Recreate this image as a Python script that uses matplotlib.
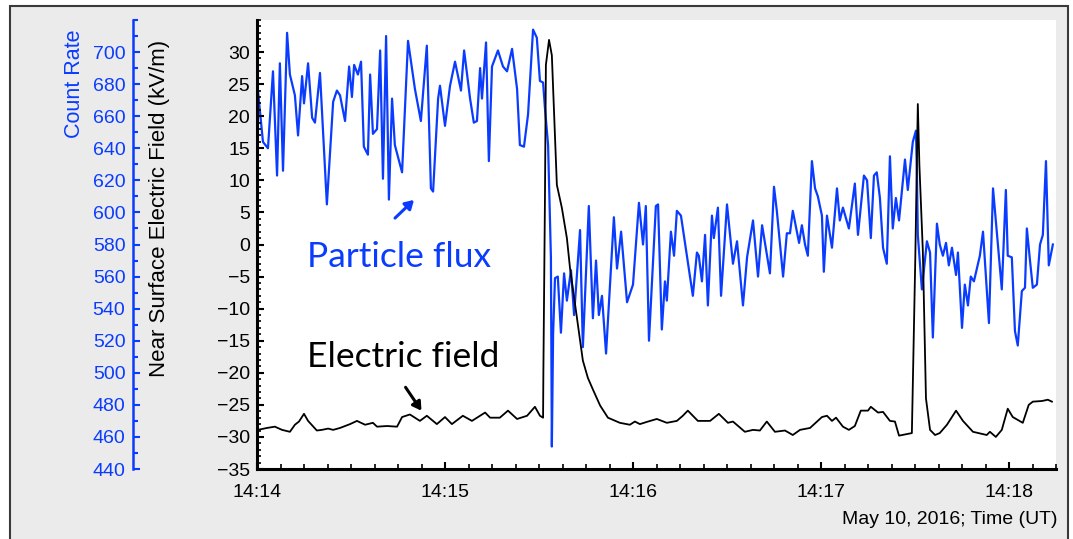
import matplotlib
matplotlib.use("Agg")
import matplotlib.pyplot as plt
from matplotlib.patches import Rectangle, FancyArrowPatch
from matplotlib.ticker import FixedLocator, MultipleLocator

# particle flux: seconds after 14:14:00 UT, count rate
flux_t = [0, 1.9, 3.5, 5.1, 6.4, 7.3, 8.3, 9.6, 10.5, 12.1, 13.1, 14.4, 15.0, 16.3, 17.6,
          18.5, 20.1, 22.3, 24.3, 25.5, 26.5, 28.1, 29.4, 30.3, 31.0, 32.2, 33.2, 34.1,
          35.4, 36.1, 37.0, 38.3, 39.3, 40.2, 41.2, 42.1, 43.1, 44.0, 46.3, 48.2, 50.4,
          52.3, 54.2, 55.5, 56.2, 57.8, 58.4, 60.0, 61.6, 63.2, 65.1, 66.1, 68.0, 69.2,
          70.2, 71.2, 71.8, 73.1, 74.0, 75.0, 76.9, 78.5, 79.8, 81.4, 83.0, 83.9, 85.2,
          86.5, 88.1, 89.3, 90.3, 91.3, 91.9, 92.9, 93.8, 94.1, 94.5, 95.1, 96.0, 97.0,
          98.0, 98.9, 100.2, 101.2, 103.1, 104.0, 105.9, 107.2, 108.2, 109.1, 110.1,
          111.4, 113.9, 114.9, 116.2, 118.1, 120.0, 121.9, 123.2, 124.1, 125.1, 127.3,
          128.0, 129.2, 130.2, 130.8, 132.1, 133.1, 134.0, 135.3, 139.1, 140.4, 141.0,
          142.0, 143.0, 143.9, 145.2, 145.8, 147.1, 148.1, 150.0, 151.9, 153.2, 155.1,
          156.4, 158.3, 159.9, 161.2, 163.7, 165.0, 165.9, 167.9, 169.1, 170.1, 171.0,
          173.0, 173.9, 174.9, 175.8, 177.1, 178.1, 179.0, 180.3, 180.9, 181.9, 183.5,
          185.1, 186.0, 187.0, 188.9, 190.8, 191.8, 193.7, 194.7, 195.9, 196.9, 197.8,
          198.8, 199.8, 201.0, 202.0, 202.9, 203.9, 204.9, 206.8, 207.7, 209.3, 210.3,
          210.6, 210.9, 212.2, 213.8, 214.8, 215.7, 217.0, 217.9, 218.9, 219.9, 220.8,
          221.8, 223.1, 223.7, 225.0, 225.9, 226.9, 227.8, 228.8, 230.7, 231.7, 233.6,
          234.9, 235.8, 237.7, 239.0, 239.6, 240.9, 241.9, 242.8, 244.1, 245.1, 245.7,
          246.7, 247.6, 248.9, 249.9, 250.8, 251.8, 252.7, 254.0]
flux_counts = [682, 644, 640, 688, 623, 693, 626, 712, 686, 673, 648, 685, 668, 693, 659,
               656, 687, 605, 669, 676, 673, 657, 691, 672, 692, 686, 694, 641,
               636, 686, 649, 652, 701, 621, 710, 608, 671, 642, 625, 707, 677,
               657, 704, 615, 613, 671, 679, 654, 679, 694, 676, 701, 671, 656,
               657, 690, 671, 706, 632, 691, 701, 691, 688, 702, 677, 642, 641,
               661, 714, 709, 682, 681, 665, 642, 572, 454, 524, 559, 560, 525,
               562, 545, 564, 536, 589, 516, 604, 534, 570, 536, 548,
               512, 597, 565, 588, 544, 555, 606, 580, 604, 520, 604,
               605, 527, 557, 545, 588, 573, 601, 598, 548, 575, 573,
               557, 586, 542, 598, 584, 603, 548, 605, 568, 582, 542,
               572, 595, 560, 592, 562, 616, 601, 560, 587, 587, 601,
               581, 592, 580, 573, 632, 615, 610, 598, 563, 598, 578,
               615, 595, 603, 590, 618, 586, 623, 620, 584, 623, 625,
               609, 578, 568, 635, 590, 609, 595, 633, 614, 644, 651,
               626, 586, 552, 582, 575, 522, 593, 580, 573, 581, 567,
               578, 561, 575, 528, 555, 542, 560, 557, 573, 588, 531,
               615, 595, 552, 614, 573, 572, 526, 517, 551, 553, 590,
               570, 553, 555, 580, 586, 632, 567, 580]

# near surface electric field: seconds after 14:14:00 UT, kV/m
field_t = [0.3, 3.2, 5.7, 8.0, 10.5, 12.1, 13.4, 15.0, 16.3, 19.1, 20.7, 22.7, 24.3, 26.5,
           29.7, 31.9, 34.5, 37.0, 38.3, 41.5, 44.7, 46.3, 48.8, 52.0, 54.2, 57.4, 60.0,
           62.2, 65.7, 68.6, 72.8, 74.4, 77.5, 80.1, 83.0, 86.2, 88.7, 90.3, 91.3, 91.4,
           91.9, 92.2, 93.2, 94.1, 95.7, 97.3, 98.9, 99.9, 102.1, 104.0, 105.6, 107.2,
           109.5, 112.0, 115.8, 119.0, 120.6, 122.2, 124.8, 127.6, 130.8, 134.0, 135.9,
           137.5, 140.7, 144.6, 147.4, 150.3, 151.9, 155.7, 158.3, 160.5, 162.7, 165.3,
           168.5, 171.0, 173.3, 176.5, 180.3, 181.9, 183.5, 184.8, 187.0, 188.9, 190.8,
           192.7, 195.0, 195.9, 198.2, 199.8, 202.0, 203.6, 204.9, 209.0, 210.1, 210.9,
           211.4, 212.5, 213.5, 214.8, 216.4, 217.9, 220.2, 223.1, 225.3, 228.5, 232.9,
           233.9, 235.8, 237.7, 239.6, 241.2, 244.4, 246.3, 247.6, 250.5, 252.4, 253.7]
field_kv = [-28.9, -28.6, -28.4, -28.9, -29.2, -28.1, -27.6, -26.4, -27.5, -29.0, -28.9,
            -28.7, -28.9, -28.6, -28.0, -27.5, -28.1, -27.8, -28.4, -28.3, -28.4, -26.9,
            -26.5, -27.5, -26.7, -28.0, -26.9, -28.0, -26.7, -27.5, -26.2, -27.0, -27.0,
            -25.9, -27.2, -26.7, -25.3, -26.7, -27.0, -19.7, 7.2, 28.0, 31.9, 29.5, 9.3,
            5.7, 1.0, -3.7, -11.4, -18.1, -20.8, -22.6, -25.1, -27.0, -27.8, -28.1, -27.6,
            -28.0, -27.6, -27.2, -27.8, -27.5, -26.7, -25.9, -27.5, -27.5, -26.4, -27.8,
            -27.6, -29.2, -28.9, -29.0, -27.6, -29.2, -29.0, -29.7, -28.9, -28.6, -26.9,
            -26.7, -27.5, -27.0, -28.4, -28.9, -28.3, -25.9, -25.9, -25.3, -26.2, -26.1,
            -27.5, -27.6, -29.8, -29.4, -2.0, 21.9, 12.4, -1.0, -24.0, -28.9, -29.7,
            -29.4, -28.1, -25.9, -27.5, -29.2, -29.7, -29.2, -30.0, -28.9, -25.6, -26.9,
            -27.8, -25.0, -24.5, -24.4, -24.2, -24.5]

time_ticks = [0, 60, 120, 180, 240]
time_labels = ["14:14", "14:15", "14:16", "14:17", "14:18"]
field_ticks = list(range(-35, 31, 5))
count_ticks = list(range(440, 701, 20))

BLUE = "#0a3cff"
GRAY = "#ebebeb"
plt.rcParams["font.family"] = ["Liberation Sans", "DejaVu Sans"]

W, H = 1073, 539
fig = plt.figure(figsize=(W / 100, H / 100), dpi=100)
fig.patch.set_facecolor("white")
# gray panel with dark frame, behind everything
fig.patches.append(Rectangle((10 / W, -0.05), 1058 / W, 1 - 6 / H + 0.05,
                             transform=fig.transFigure, facecolor=GRAY,
                             edgecolor="#3a3a3a", linewidth=1.5, zorder=-10))

left, right, top, bottom = 257, 1056, 20, 469
rect = [left / W, 1 - bottom / H, (right - left) / W, (bottom - top) / H]
ax2 = fig.add_axes(rect)
ax = fig.add_axes(rect, sharex=ax2)
ax2.set_zorder(1)
ax.set_zorder(2)
ax.patch.set_visible(False)
ax2.set_facecolor("white")

# count rate (blue, outer axis)
ax2.plot(flux_t, flux_counts, color=BLUE, lw=1.6, solid_joinstyle="round")
ax2.set_ylim(440, 720)
for s in ["top", "right", "bottom"]:
    ax2.spines[s].set_visible(False)
ax2.spines["left"].set_position(("axes", -(left - 133) / (right - left)))
ax2.spines["left"].set_color(BLUE)
ax2.spines["left"].set_linewidth(1.8)
ax2.yaxis.set_major_locator(FixedLocator(count_ticks))
ax2.yaxis.set_minor_locator(MultipleLocator(10))
ax2.tick_params(axis="y", which="both", direction="in", colors=BLUE, labelsize=14, pad=5.5)
ax2.tick_params(axis="y", which="major", length=5, width=1.5)
ax2.tick_params(axis="y", which="minor", length=3.5, width=1.5)
ax2.tick_params(axis="x", which="both", bottom=False, labelbottom=False)

# electric field (black, inner axis)
ax.plot(field_t, field_kv, color="black", lw=1.3, solid_joinstyle="round")
ax.set_xlim(0, 255)
ax.set_ylim(-35, 35)
ax.spines["top"].set_visible(False)
ax.spines["right"].set_visible(False)
ax.spines["left"].set_linewidth(2.2)
ax.spines["bottom"].set_linewidth(2.2)
ax.yaxis.set_major_locator(FixedLocator(field_ticks))
ax.yaxis.set_minor_locator(MultipleLocator(1))
ax.xaxis.set_major_locator(FixedLocator(time_ticks))
ax.xaxis.set_minor_locator(MultipleLocator(7.5))
ax.set_xticklabels(time_labels)
ax.tick_params(axis="both", which="both", direction="in", labelsize=14)
ax.tick_params(axis="y", which="major", length=5, width=1.5, pad=5)
ax.tick_params(axis="y", which="minor", length=3, width=1.2)
ax.tick_params(axis="x", which="major", length=5, width=1.5, pad=11)
ax.tick_params(axis="x", which="minor", length=3.5, width=1.2)

fig.text(75 / W, 1 - 84 / H, "Count Rate", color=BLUE, fontsize=15.5,
         rotation=90, ha="center", va="center")
fig.text(160 / W, 1 - 208 / H, "Near Surface Electric Field (kV/m)", color="black",
         fontsize=16, rotation=90, ha="center", va="center")
fig.text(1057 / W, 1 - 520 / H, "May 10, 2016; Time (UT)", fontsize=14,
         ha="right", va="center")

# annotations
fig.text(399 / W, 1 - 257 / H, "Particle flux", color=BLUE, fontsize=25.5,
         family=["Lato", "DejaVu Sans"], ha="center", va="center", zorder=5)
fig.text(403 / W, 1 - 357 / H, "Electric field", color="black", fontsize=25.5,
         family=["Lato", "DejaVu Sans"], ha="center", va="center", zorder=5)
fig.patches.append(FancyArrowPatch(
    (393 / W, 1 - 220 / H), (416 / W, 1 - 198 / H), transform=fig.transFigure,
    arrowstyle="-|>,head_length=5,head_width=3", color=BLUE, lw=2.2, zorder=5))
fig.patches.append(FancyArrowPatch(
    (404 / W, 1 - 385 / H), (423 / W, 1 - 413 / H), transform=fig.transFigure,
    arrowstyle="-|>,head_length=5,head_width=3", color="black", lw=2.2, zorder=5))

fig.savefig("out.png", dpi=100)
